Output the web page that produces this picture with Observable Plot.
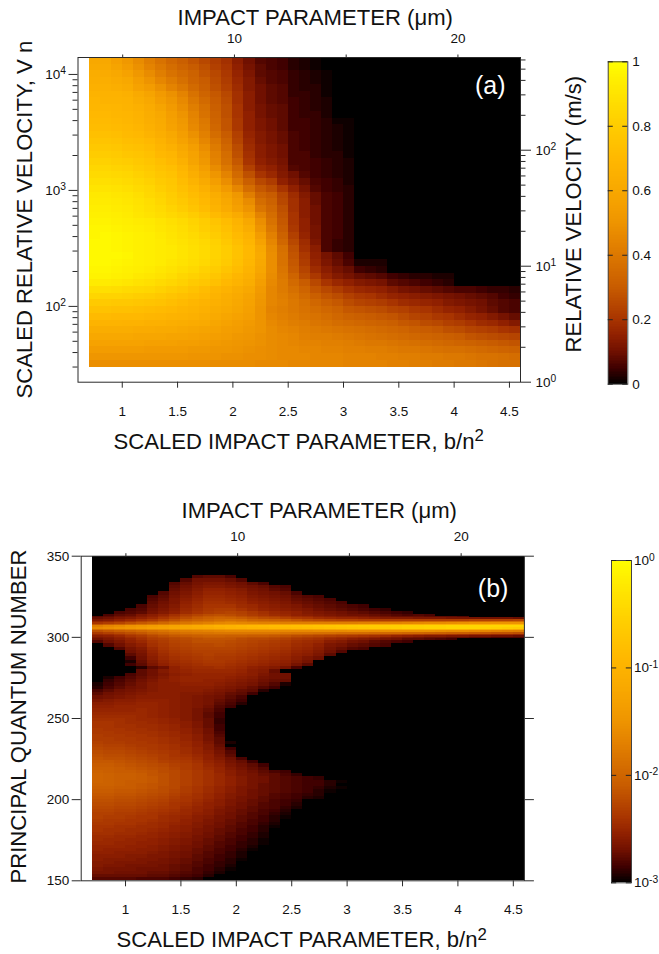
<!DOCTYPE html>
<html><head><meta charset="utf-8">
<script src="https://cdn.jsdelivr.net/npm/d3@7"></script>
<script src="https://cdn.jsdelivr.net/npm/@observablehq/plot@0.6"></script>
<style>html,body{margin:0;background:#fff}#page{position:relative;width:659px;height:954px;overflow:hidden}#page svg{position:absolute;left:0;top:0}</style>
</head><body><div id="page"></div>
<script>
// colour ramp (level 0..1)
const rampLevels=[0,.02,.05,.1,.15,.2,.25,.3,.35,.4,.45,.5,.55,.6,.65,.7,.75,.8,.85,.9,.95,1];
const rampColors=["#000000","#1c0000","#400000","#701000","#902000","#a83400","#b84800","#c85c00","#d26a00","#dc7800","#e68600","#ee9400","#f49e00","#f8a800","#fcb000","#ffb800","#ffc200","#ffcc00","#ffd800","#ffe400","#fff000","#ffff00"];

// scaled impact parameter bin edges
const bEdges=[.7,.8,.9,1,1.1,1.2,1.3,1.4,1.5,1.6,1.7,1.8,1.9,2,2.1,2.2,2.3,2.4,2.5,2.6,2.7,2.8,2.9,3,3.1,3.2,3.3,3.4,3.5,3.6,3.7,3.8,3.9,4,4.1,4.2,4.3,4.4,4.5,4.6];

// panel (a): scaled relative velocity bin edges, top to bottom
const vEdges=[14000,12250,10720,9375,8200,7175,6280,5490,4805,4205,3680,3220,2815,2465,2155,1885,1650,1445,1264,1105,967,846,740,648,567,496,434,380,332,290,254,222,194,170,149,130,114,99.6,87.1,76.2,66.7,58.4,51.1,44.7,39.1,34.2,30];
// panel (a): percent level per bin, row by row (missing trailing bins are 0)
const aLevels=[
[60,60,56,52,47,42,38,34,31,28,25,22,19,14,10,7,6,5,3,2,1],
[61,61,58,54,49,44,40,36,33,30,27,23,20,15,11,8,6,5,3,2,1],
[63,62,60,57,52,47,42,38,35,32,28,25,21,16,12,8,7,6,4,3,2,1],
[64,64,62,60,55,50,45,41,37,33,30,26,22,17,13,9,7,6,4,3,2,1],
[65,65,64,62,57,54,49,44,40,35,31,27,23,18,13,10,8,7,4,3,3,1],
[67,66,66,65,61,58,53,49,44,38,33,29,25,19,14,10,8,7,4,4,3,1],
[68,67,67,66,63,60,55,51,46,40,35,30,26,19,14,10,8,7,5,4,3,2],
[69,69,68,67,65,62,58,53,48,42,37,31,27,20,14,11,9,8,5,4,3,2],
[70,70,69,68,66,63,60,55,50,44,38,32,27,20,15,11,9,8,5,4,4,2],
[71,71,70,69,67,64,61,56,52,45,40,33,28,21,15,12,10,8,5,5,4,3,1,1],
[72,72,71,70,68,65,62,57,53,46,41,34,28,21,15,12,10,8,5,5,4,3,2,1],
[74,74,73,71,70,67,64,60,55,49,43,36,30,23,16,13,11,9,6,5,4,3,2,1],
[76,76,75,73,72,70,66,62,57,52,45,39,32,24,17,13,11,9,6,5,4,3,2,1],
[78,78,77,75,74,72,68,65,60,55,48,41,34,26,18,14,12,10,6,5,4,3,2,1],
[80,80,79,77,76,74,70,68,62,57,50,43,36,27,19,14,12,10,6,6,4,3,3,1],
[82,82,81,80,78,76,73,70,65,58,52,44,37,29,20,15,13,11,6,6,5,4,3,2],
[84,84,83,82,80,78,75,73,68,61,55,47,40,32,23,17,15,12,7,6,5,4,3,2],
[86,86,85,84,82,80,77,75,70,64,58,51,44,35,27,20,17,13,10,7,5,4,3,2],
[88,88,87,86,84,82,79,77,72,67,61,55,48,39,31,25,22,15,12,9,6,5,4,2],
[90,90,89,88,86,84,81,78,74,70,65,59,53,45,36,29,26,20,15,11,7,5,4,3],
[92,92,91,90,88,85,83,80,76,72,68,63,58,52,42,33,30,24,18,13,9,6,5,3],
[93,93,92,91,89,87,84,81,78,74,70,65,60,54,47,36,32,25,19,14,9,6,5,3],
[94,94,93,92,90,88,86,83,80,76,72,67,62,56,50,39,34,27,19,14,10,6,5,3],
[95,95,94,93,91,89,87,85,83,80,76,71,67,62,55,44,36,28,20,14,10,6,5,3],
[96,96,95,94,93,92,90,88,86,83,80,76,72,67,60,48,38,29,20,15,10,6,5,3],
[97,97,96,95,94,93,91,89,87,84,81,78,74,69,63,50,40,30,21,15,11,6,5,3],
[97,98,97,96,95,94,92,90,88,86,83,80,76,71,66,54,43,32,23,16,11,6,5,3],
[98,98,97,96,95,94,93,91,89,87,85,82,78,73,68,57,45,34,25,18,12,6,4,3],
[98,98,97,96,95,94,93,92,90,88,86,83,80,75,70,60,47,37,27,19,14,6,4,3],
[98,98,98,97,95,94,93,92,90,88,86,83,80,75,70,61,48,38,28,21,15,11,8,5],
[98,98,97,96,95,94,93,91,89,87,85,82,79,74,69,60,48,38,29,22,16,12,9,6,2,2,2],
[97,97,96,95,94,93,91,89,87,85,82,80,76,72,67,59,48,39,30,24,18,14,11,9,5,4,3],
[96,96,95,94,92,91,89,87,84,82,80,77,73,69,65,57,47,40,33,26,21,16,13,11,9,8,7,5,4,3,3,2,2],
[93,93,92,91,89,88,86,84,82,79,77,74,70,67,63,55,46,41,35,30,25,20,17,15,13,12,11,8,7,6,5,4,3],
[88,88,87,86,85,84,82,80,78,75,72,69,66,63,60,53,45,41,37,33,28,25,22,19,17,16,15,13,11,10,9,8,7,6,6,5,4,4,3],
[84,83,83,82,81,80,78,76,74,72,70,67,64,61,58,52,45,42,39,35,31,28,26,23,21,20,18,16,15,14,13,12,11,10,9,8,7,5,4],
[79,79,78,78,77,76,75,73,71,69,67,65,63,60,57,51,45,43,40,37,34,31,29,26,24,23,22,20,18,17,16,15,13,12,11,10,8,7,6],
[75,75,74,74,73,72,71,70,68,67,65,63,61,59,56,50,44,42,40,38,36,34,32,29,28,27,26,24,23,21,20,18,16,15,13,11,9,7,6],
[71,71,70,70,70,69,68,67,66,65,63,61,59,57,55,50,45,43,41,39,38,36,34,32,31,30,29,28,26,24,23,21,20,18,16,15,13,11,9],
[67,67,67,66,66,65,65,64,63,62,61,59,57,55,53,50,46,44,42,41,39,38,36,35,34,33,32,31,29,28,26,25,23,22,20,18,17,15,13],
[63,63,63,63,62,62,61,61,60,59,58,57,55,54,52,50,47,45,44,42,41,40,39,38,37,36,35,34,33,31,30,29,27,26,24,23,22,20,19],
[60,60,60,60,59,59,59,58,58,57,56,55,54,52,51,49,47,46,45,43,42,42,41,40,39,38,37,36,35,34,33,32,31,30,28,27,26,25,24],
[57,57,57,57,57,56,56,56,55,55,54,53,52,51,50,49,47,46,45,44,44,43,43,42,41,40,40,39,38,37,36,35,34,33,32,31,30,29,28],
[54,54,54,54,54,53,53,53,53,52,52,51,51,50,49,48,47,46,46,45,45,44,44,43,43,42,42,41,40,40,39,38,37,37,36,35,34,33,32],
[51,51,51,51,51,51,51,51,51,50,50,50,49,49,48,48,47,46,46,46,45,45,45,44,44,44,43,43,42,42,41,41,40,40,39,38,38,37,36],
[48,48,48,48,48,48,48,48,48,48,48,47,47,47,47,46,46,46,45,45,45,45,45,44,44,44,44,43,43,42,42,41,41,40,40,39,38,37,37]
];

// panel (b): upper edge of the top bin, then [lower n of bin, first non-black b-bin, percent levels...]
const nTop=350;
const bRows=[
[338,0,[]],
[336,9,[7,8,8,6]],
[334,8,[7,10,10,10,9,7]],
[332,7,[7,9,11,12,12,11,10,8,6]],
[330,7,[8,10,12,13,13,12,11,10,9,7,6]],
[328,7,[9,11,13,15,15,14,13,11,10,8,7]],
[326,6,[7,10,12,14,16,16,15,14,12,11,10,9,6]],
[324,5,[6,8,11,13,15,17,17,16,15,13,12,11,10,8,7,6]],
[322,5,[7,9,12,14,16,18,18,17,16,14,13,12,11,9,8,7,6]],
[320,5,[8,10,12,15,17,19,19,18,17,15,14,13,12,10,9,8,7,6]],
[318,4,[6,9,11,13,16,18,20,20,20,18,17,15,14,13,12,10,9,8,7,6,5]],
[316,3,[6,7,10,12,14,17,19,21,22,22,20,18,16,15,14,13,12,10,9,8,7,6,5,4]],
[314,2,[6,7,8,11,13,15,18,20,22,23,24,23,21,19,17,16,15,13,12,11,10,9,8,7,6,5,4]],
[313,1,[6,8,9,12,14,16,19,22,24,26,27,26,24,22,20,18,17,15,14,13,12,11,10,10,9,8,7,6,7,6]],
[312,0,[7,8,10,11,13,15,18,21,24,27,29,30,29,27,25,23,22,20,18,17,15,14,13,13,12,11,10,9,9,9,8,8,8,7]],
[311,0,[9,10,12,13,15,17,20,23,26,29,31,33,32,30,28,26,25,23,21,20,18,17,16,16,15,14,13,13,13,12,12,12,11,11,11,10,10,10,9]],
[310,0,[12,13,15,17,19,21,24,27,30,32,34,36,37,36,33,32,31,30,28,26,25,24,23,23,22,22,22,22,22,22,22,22,22,22,23,23,23,23,24]],
[309,0,[16,17,19,21,24,26,29,32,35,37,38,40,42,40,38,37,36,35,34,33,32,31,31,31,31,31,31,31,32,32,33,33,34,34,35,35,36,36,36]],
[308,0,[20,22,24,27,29,31,34,37,39,41,43,45,46,45,44,43,43,42,42,42,42,42,42,42,43,43,44,44,45,46,47,47,48,49,50,50,50,50,50]],
[307,0,[28,30,32,35,38,40,42,44,46,48,50,52,53,53,54,54,55,55,56,56,57,57,58,59,60,61,62,63,64,64,65,65,66,66,67,67,68,68,68]],
[306,0,[42,45,47,50,52,54,56,58,60,62,64,66,67,69,70,71,72,73,74,75,76,77,78,79,80,80,81,81,82,82,83,83,84,84,84,84,84,84,84]],
[305,0,[46,48,50,52,54,56,57,59,60,61,62,64,66,67,68,69,70,71,72,73,74,75,76,77,78,79,80,81,82,82,83,83,84,84,84,83,82,81,80]],
[304,0,[36,38,40,42,44,46,47,49,50,51,52,53,54,54,55,55,56,56,57,57,58,59,60,61,62,62,63,64,65,65,66,66,66,66,65,64,63,62,60]],
[303,0,[27,29,31,33,35,37,39,41,42,43,44,45,46,46,46,46,46,46,46,46,47,47,47,48,48,48,49,49,49,49,49,48,47,47,46,45,44,43,42]],
[302,0,[21,23,25,27,29,32,34,36,38,39,39,40,40,40,40,40,40,39,38,38,37,37,36,36,36,35,35,35,34,34,33,32,31,31,30,29,28,28,27]],
[301,0,[17,18,20,23,25,28,30,32,33,34,35,35,35,35,34,34,33,32,31,30,29,28,27,27,26,26,25,24,23,22,21,21,20,19,18,18,17,17,16]],
[300,0,[14,15,17,20,22,25,27,29,30,31,32,32,31,31,30,30,29,28,26,25,24,23,22,21,20,19,18,16,15,14,13,13,12,12,11,11,10,10,9]],
[299,0,[12,13,15,18,20,23,25,26,27,29,30,30,29,28,27,27,26,25,23,22,21,19,18,17,16,15,13,12,11,10,9,9,8,8,7,7,6,6,6]],
[298,0,[10,12,14,16,19,22,23,25,26,27,28,28,28,26,25,25,24,23,21,20,19,17,16,14,13,12,11,10,8,8,7,6,5]],
[296,0,[7,10,12,15,17,20,22,24,25,27,27,27,26,25,24,23,22,21,19,18,17,14,13,11,10,8,7,6,5]],
[294,1,[7,10,13,15,19,21,23,24,25,25,26,25,24,23,22,21,20,18,17,15,12,11,9,8,7,6]],
[292,2,[7,11,13,17,20,22,23,24,24,24,24,23,22,21,20,19,17,16,14,11,9,7,6]],
[290,3,[10,12,16,19,21,22,23,23,23,23,22,21,20,19,18,16,15,13,10,7]],
[288,3,[8,11,15,18,20,21,22,23,22,22,21,20,19,18,17,15,14,12,8]],
[286,3,[5,10,14,17,19,20,21,22,21,21,20,19,18,17,16,14,12,10]],
[284,3,[2,9,13,16,18,19,20,21,21,20,19,18,17,16,15,13,11]],
[282,3,[5,8,12,15,17,18,19,20,20,19,18,17,16,15,14,11,8]],
[280,4,[3,8,10,15,17,18,18,19,18,17,15,14,13,11,6]],
[278,4,[8,10,13,15,16,17,17,17,17,16,14,13,9]],
[276,3,[6,8,10,12,14,15,16,16,16,16,15,14,12,10,10]],
[274,1,[2,5,7,9,11,13,15,16,16,16,16,15,14,13,11,10,10]],
[272,1,[4,6,8,10,12,14,15,16,16,15,15,14,13,12,10,9,9]],
[270,0,[2,5,7,9,11,13,14,14,15,15,15,14,13,12,11,9,7,2]],
[268,0,[3,6,8,10,11,13,14,14,14,14,14,13,12,11,9,7,5]],
[266,0,[6,8,10,11,12,13,14,14,14,14,13,12,11,9,8,3]],
[264,0,[8,10,11,12,13,14,14,14,13,13,12,11,9,8,5]],
[262,0,[10,11,12,13,14,14,14,14,13,12,11,10,8,6]],
[260,0,[12,13,14,14,15,15,15,14,13,12,11,9,7,5]],
[258,0,[14,14,15,15,16,16,15,14,13,12,11,8,6,3]],
[256,0,[15,15,16,16,16,16,15,14,13,12,10,7,5]],
[254,0,[16,16,16,16,17,16,15,14,13,11,9,6]],
[252,0,[17,17,17,17,17,16,15,14,13,11,8,5]],
[250,0,[18,18,18,18,17,16,15,14,13,11,8,5]],
[248,0,[19,19,19,18,17,17,16,15,13,11,9,4]],
[246,0,[20,20,19,18,18,17,16,15,14,12,9,4]],
[244,0,[20,20,19,19,18,18,17,16,14,12,9,5]],
[242,0,[21,20,20,19,19,18,17,16,15,13,10,5]],
[240,0,[21,21,20,20,19,19,18,17,15,13,10,6]],
[238,0,[22,21,21,20,20,19,18,17,16,14,11,7]],
[236,0,[22,22,21,21,20,20,19,18,16,14,11,8]],
[234,0,[23,22,22,21,21,20,19,18,17,15,12,8,2]],
[232,0,[24,23,23,22,21,21,20,19,17,15,13,9]],
[230,0,[25,24,24,23,22,21,20,19,18,16,13,10,5]],
[228,0,[26,25,25,24,23,22,21,20,18,16,14,11,7]],
[226,0,[27,26,26,25,24,23,22,20,19,17,15,12,8]],
[224,0,[28,27,27,26,25,24,22,21,20,18,15,13,10,6]],
[222,0,[29,29,28,27,26,25,23,22,21,19,16,14,11,9,5]],
[220,0,[30,30,29,28,27,26,25,23,22,20,17,15,12,10,8,5]],
[218,0,[31,31,30,29,28,27,26,24,22,20,18,16,13,11,9,7]],
[216,0,[32,31,30,30,29,28,26,25,23,21,19,16,14,12,10,8,6,5]],
[214,0,[33,32,31,31,30,28,27,25,23,21,19,17,14,12,11,9,8,6,4]],
[212,0,[33,32,31,31,30,29,27,25,23,21,19,17,15,13,11,10,8,7,6,5,4]],
[210,0,[33,32,31,30,30,29,27,25,23,21,19,17,15,13,11,10,8,7,6,5,5,3,1]],
[208,0,[32,32,31,30,29,28,27,25,23,21,19,17,15,13,11,9,8,7,6,5,5,3]],
[206,0,[31,31,30,30,29,28,26,25,22,20,18,16,14,12,11,9,8,7,6,5,4,2,1]],
[204,0,[30,30,29,29,28,27,26,24,22,20,18,16,14,12,10,9,8,7,6,5,3,1]],
[202,0,[29,29,28,28,27,26,25,23,21,19,17,15,13,12,10,9,7,6,5,4,3]],
[200,0,[28,28,27,27,26,25,24,22,20,19,17,15,13,11,10,8,7,6,5,3,2]],
[198,0,[27,27,26,26,25,24,23,21,20,18,16,14,12,11,9,8,6,5,4]],
[196,0,[26,26,25,25,24,23,22,20,19,17,15,14,12,10,9,7,6,5,3]],
[194,0,[25,25,24,24,23,22,21,20,18,16,15,13,11,10,8,7,6,4,2]],
[192,0,[24,24,23,23,22,21,20,19,17,16,14,12,11,9,8,6,5,3]],
[190,0,[23,23,22,22,21,20,19,18,17,15,14,12,10,9,7,6,4,2]],
[188,0,[23,22,22,21,20,20,18,17,16,14,13,11,10,8,7,5,3,1]],
[186,0,[22,21,21,20,20,19,18,17,15,14,12,11,9,8,6,5,3]],
[184,0,[21,21,20,20,19,18,17,16,15,13,12,10,9,7,6,4,2]],
[182,0,[20,20,19,19,18,18,17,15,14,13,11,10,8,7,5,3,1]],
[180,0,[20,19,19,18,18,17,16,15,14,12,11,9,8,6,5,3]],
[178,0,[19,19,18,18,17,16,15,14,13,12,10,9,7,6,4,2]],
[176,0,[18,18,17,17,16,16,15,14,13,11,10,8,7,5,4,2]],
[174,0,[18,17,17,16,16,15,14,13,12,11,9,8,6,5,3,1]],
[172,0,[17,17,16,16,15,15,14,13,12,10,9,7,6,4,3,1]],
[170,0,[16,16,16,15,15,14,13,12,11,10,8,7,5,4,2]],
[168,0,[16,15,15,15,14,14,13,12,11,9,8,6,5,3,1]],
[166,0,[15,15,14,14,14,13,12,11,10,9,7,6,4,2]],
[164,0,[14,14,14,13,13,12,12,11,10,8,7,5,4,2]],
[162,0,[14,13,13,13,12,12,11,10,9,8,6,5,3,1]],
[160,0,[13,13,12,12,12,11,11,10,9,7,6,4,3]],
[158,0,[13,12,12,11,11,11,10,9,8,7,5,4,2]],
[156,0,[12,11,11,11,10,10,10,9,8,6,5,3,1]],
[154,0,[11,11,10,10,10,9,9,8,7,6,4,2]],
[152,0,[9,9,9,9,9,8,8,7,6,5,3]],
[150,0,[7,7,7,7,6,6,6,5,4,3]]
];

const xTicks=[1,1.5,2,2.5,3,3.5,4,4.5];
const umTicks=[5,10,15,20];
const vMajor=[100,1000,10000];
const vMinor=[30,40,50,60,70,80,90,200,300,400,500,600,700,800,900,2000,3000,4000,5000,6000,7000,8000,9000];
const relMajor=[1,10,100];
const relMinor=[2,3,4,5,6,7,8,9,20,30,40,50,60,70,80,90,200,300,400,500,600];
const nTicks=[150,200,250,300,350];
const barATicks=[0,.2,.4,.6,.8,1];
const barBTicks=[.001,.01,.1,1];

const axisTitles=[
 {t:"IMPACT PARAMETER (μm)",x:177,y:24,r:0},
 {t:"SCALED IMPACT PARAMETER, b/n^2",x:113,y:448,r:0},
 {t:"SCALED RELATIVE VELOCITY, V n",x:31.5,y:398,r:-90},
 {t:"RELATIVE VELOCITY (m/s)",x:580,y:352,r:-90},
 {t:"IMPACT PARAMETER (μm)",x:181,y:517,r:0},
 {t:"SCALED IMPACT PARAMETER, b/n^2",x:116,y:946.5,r:0},
 {t:"PRINCIPAL QUANTUM NUMBER",x:25,y:883,r:-90}
];

const W=659,H=954,FONT="'Liberation Sans',Arial,sans-serif";
const INK="#2a2a2a",TICK=13.5;
const colorOpt={type:"linear",domain:rampLevels,range:rampColors};
const base={width:W,height:H,style:{background:"transparent",fontFamily:FONT,color:"#111"}};
const pow10=d=>"10^"+Math.round(Math.log10(d));
const none=()=>"";
const cellsOf=(edges,getRow)=>edges.slice(0,-1).flatMap((_,r)=>{
  const row=getRow(r);
  return bEdges.slice(0,-1).map((b,c)=>({x1:b,x2:bEdges[c+1],y1:edges[r+1],y2:edges[r],t:(row[c]||0)/100}));
});
const heat=cells=>Plot.rect(cells,{x1:"x1",x2:"x2",y1:"y1",y2:"y2",fill:"t",shapeRendering:"crispEdges"});

function sup(svg){
  svg.querySelectorAll("text").forEach(t=>{
    const s=t.textContent;
    if(!s.includes("^"))return;
    const [a,b]=s.split("^");
    t.textContent="";
    t.append(a);
    const sp=document.createElementNS("http://www.w3.org/2000/svg","tspan");
    sp.setAttribute("dy","-0.42em");sp.setAttribute("font-size","0.76em");sp.textContent=b;
    t.append(sp);
  });
  return svg;
}
const add=o=>document.getElementById("page").append(sup(Plot.plot({...base,...o})));

// Panel (a)
const aFrame={marginLeft:77.5,marginRight:139,marginTop:57,marginBottom:H-381.7};
add({...aFrame,
  x:{domain:[.6,4.6],label:null},
  y:{type:"log",domain:[22.2,14000],label:null},
  color:colorOpt,
  marks:[
    heat(cellsOf(vEdges,r=>aLevels[r])),
    Plot.frame({stroke:INK}),
    Plot.axisX({ticks:xTicks,tickSize:6,tickPadding:18,tickFormat:d=>String(d),stroke:INK,fontSize:TICK}),
    Plot.axisY({ticks:vMajor,tickSize:9,tickPadding:3,tickFormat:pow10,stroke:INK,fontSize:TICK}),
    Plot.axisY({ticks:vMinor,tickSize:5,tickFormat:none,stroke:INK}),
    Plot.text(["(a)"],{frameAnchor:"top-right",dx:-15,dy:19,fill:"white",fontSize:25,lineAnchor:"top"})
  ]});
add({...aFrame,
  x:{domain:[3,22.8],label:null},
  y:{type:"log",domain:[1,630],label:null},
  marks:[
    Plot.axisX({anchor:"top",ticks:umTicks,tickSize:3.5,tickPadding:11.5,tickFormat:d=>d%10?"":String(d),stroke:INK,fontSize:TICK}),
    Plot.axisY({anchor:"right",ticks:relMajor,tickSize:10,tickPadding:5,tickFormat:pow10,stroke:INK,fontSize:TICK}),
    Plot.axisY({anchor:"right",ticks:relMinor,tickSize:4.5,tickFormat:none,stroke:INK})
  ]});

// Panel (b)
const nEdges=[nTop,...bRows.map(r=>r[0])];
const bFrame={marginLeft:80.7,marginRight:135.1,marginTop:555.7,marginBottom:H-880.3};
add({...bFrame,
  x:{domain:[.6,4.6],label:null},
  y:{domain:[150,350],label:null},
  color:colorOpt,
  marks:[
    heat(cellsOf(nEdges,r=>{const [,s,v]=bRows[r];return Array(s).fill(0).concat(v);})),
    Plot.frame({stroke:INK}),
    Plot.axisX({ticks:xTicks,tickSize:6,tickPadding:18,tickFormat:d=>String(d),stroke:INK,fontSize:TICK}),
    Plot.axisY({ticks:nTicks,tickSize:9,tickPadding:3,stroke:INK,fontSize:TICK}),
    Plot.axisY({anchor:"right",ticks:nTicks,tickSize:9,tickFormat:none,stroke:INK}),
    Plot.text(["(b)"],{frameAnchor:"top-right",dx:-16,dy:23.5,fill:"white",fontSize:25,lineAnchor:"top"})
  ]});
add({...bFrame,
  x:{domain:[3,22.83],label:null},
  y:{domain:[150,350],axis:null},
  marks:[Plot.axisX({anchor:"top",ticks:umTicks,tickSize:3.5,tickPadding:11.5,tickFormat:d=>d%10?"":String(d),stroke:INK,fontSize:TICK})]});

// Colour bars
const steps=d3.range(0,1,.005);
add({marginLeft:607.7,marginRight:W-627.3,marginTop:61.3,marginBottom:H-383.7,
  x:{domain:[0,1],axis:null},y:{domain:[0,1],label:null},color:colorOpt,
  marks:[
    Plot.rect(steps,{x1:0,x2:1,y1:d=>d,y2:d=>d+.005,fill:d=>d+.0025,shapeRendering:"crispEdges"}),
    Plot.frame({stroke:"#444"}),
    Plot.ruleY(barATicks,{x1:0,x2:.26,stroke:"#222"}),
    Plot.ruleY(barATicks,{x1:.74,x2:1,stroke:"#222"}),
    Plot.axisY({anchor:"right",ticks:barATicks,tickSize:0,tickPadding:4.5,tickFormat:d=>String(d),fontSize:TICK})
  ]});
add({marginLeft:611,marginRight:W-631,marginTop:560,marginBottom:H-882.3,
  x:{domain:[0,1],axis:null},y:{type:"log",domain:[.001,1],label:null},color:colorOpt,
  marks:[
    Plot.rect(steps,{x1:0,x2:1,y1:d=>10**(3*d-3),y2:d=>10**(3*(d+.005)-3),fill:d=>d+.0025,shapeRendering:"crispEdges"}),
    Plot.frame({stroke:"#444"}),
    Plot.ruleY(barBTicks,{x1:0,x2:.26,stroke:"#222"}),
    Plot.ruleY(barBTicks,{x1:.74,x2:1,stroke:"#222"}),
    Plot.axisY({anchor:"right",ticks:barBTicks,tickSize:0,tickPadding:2.5,tickFormat:pow10,fontSize:TICK})
  ]});

// Axis titles
add({margin:0,x:{type:"identity",axis:null},y:{type:"identity",axis:null},
  marks:[Plot.text(axisTitles,{x:"x",y:"y",text:"t",rotate:"r",textAnchor:"start",lineAnchor:"bottom",fontSize:22.1,fill:"#111"})]});
</script></body></html>
